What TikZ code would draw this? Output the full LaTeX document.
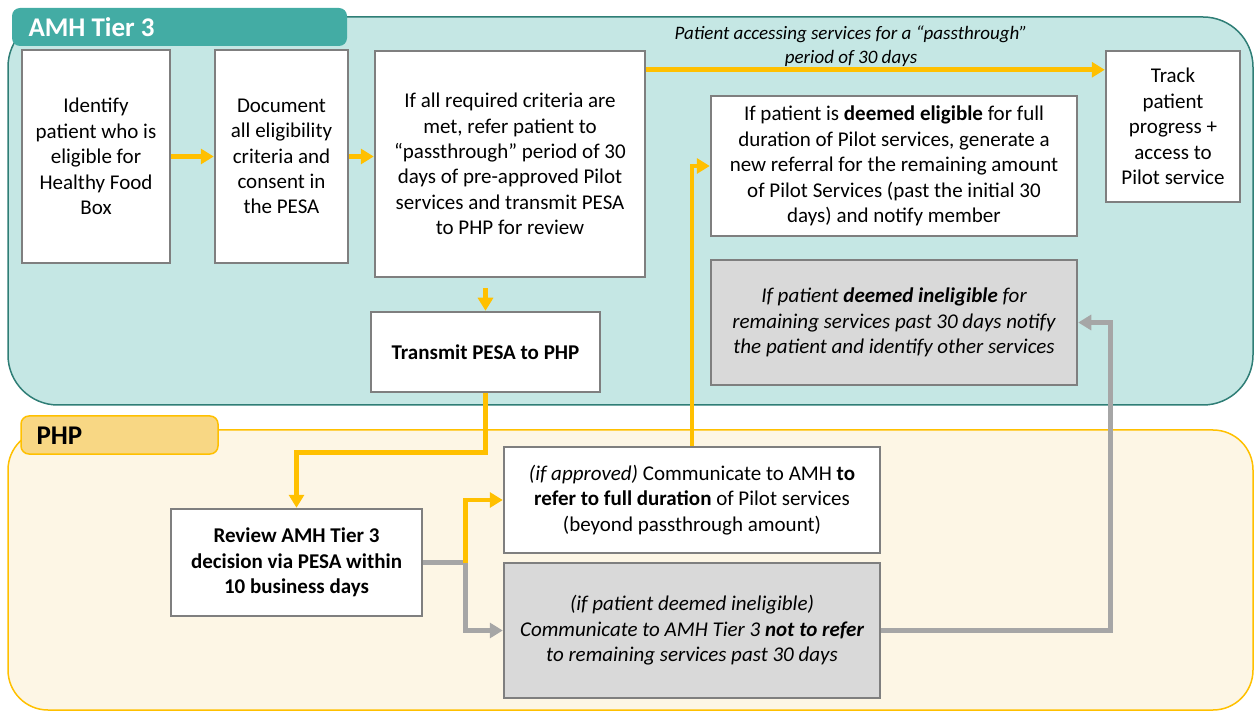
\documentclass[tikz,border=0pt]{standalone}
\usepackage{fontspec}
\setmainfont{Carlito}
\usetikzlibrary{arrows.meta,calc}
\definecolor{tealbg}{HTML}{C5E7E4}
\definecolor{tealdark}{HTML}{2F7E76}
\definecolor{tealtab}{HTML}{43ACA4}
\definecolor{phpbg}{HTML}{FDF6E5}
\definecolor{amber}{HTML}{FFC000}
\definecolor{phptab}{HTML}{F8D784}
\definecolor{boxgray}{HTML}{7F7F7F}
\definecolor{fillgray}{HTML}{D9D9D9}
\definecolor{arrgray}{HTML}{A6A6A6}
\tikzset{
  stepbox/.style={draw=boxgray, line width=2.5pt, fill=white, align=center, inner sep=0pt,
    font=\fontsize{21}{25.4}\selectfont},
  graybox/.style={stepbox, fill=fillgray},
  yarrow/.style={draw=amber, line width=4.5pt, -{Triangle[length=13pt,width=15pt]}},
  garrow/.style={draw=arrgray, line width=4.5pt, -{Triangle[length=13pt,width=15pt]}},
}
\begin{document}
\begin{tikzpicture}[x=1pt,y=-1pt]
\useasboundingbox (0,0) rectangle (1254,711);
% panels
\draw[fill=tealbg, draw=tealdark, line width=1.5pt, rounded corners=50pt] (8,17) rectangle (1253,405);
\draw[fill=phpbg, draw=amber, line width=1.5pt, rounded corners=40pt] (8,430) rectangle (1253,710);
\path[fill=tealtab, rounded corners=8pt] (12,8) rectangle (347,46);
\node[text=white, font=\fontsize{27}{30}\selectfont\bfseries, anchor=west] (amhtab) at (25,27) {AMH Tier 3};
\path[fill=phptab, draw=amber, line width=1.5pt, rounded corners=8pt] (21,416) rectangle (218,454);
\node[text=black, font=\fontsize{27}{30}\selectfont\bfseries, anchor=west] (phptablbl) at (33,436) {PHP};
% nodes
\node[stepbox, minimum width=148pt, minimum height=213pt] (id) at (96,156.5)
  {Identify\\patient who is\\eligible for\\Healthy Food\\Box};
\node[stepbox, minimum width=133pt, minimum height=213pt] (doc) at (281.5,156.5)
  {Document\\all eligibility\\criteria and\\consent in\\the PESA};
\node[stepbox, minimum width=270pt, minimum height=226pt] (ifall) at (510,164)
  {If all required criteria are\\met, refer patient to\\“passthrough” period of 30\\days of pre-approved Pilot\\services and transmit PESA\\to PHP for review};
\node[stepbox, minimum width=229pt, minimum height=80pt, font=\fontsize{21}{25.4}\selectfont\bfseries] (tx) at (485.5,352)
  {Transmit PESA to PHP};
\node[stepbox, minimum width=134pt, minimum height=151pt] (track) at (1173,126.5)
  {Track\\patient\\progress +\\access to\\Pilot service};
\node[stepbox, minimum width=366pt, minimum height=140pt] (el) at (894,166)
  {If patient is \textbf{deemed eligible} for full\\duration of Pilot services, generate a\\new referral for the remaining amount\\of Pilot Services (past the initial 30\\days) and notify member};
\node[graybox, minimum width=366pt, minimum height=125pt, font=\fontsize{21}{25.4}\selectfont\itshape] (g1) at (894,322.5)
  {If patient \textbf{deemed ineligible} for\\remaining services past 30 days notify\\the patient and identify other services};
\node[stepbox, minimum width=251pt, minimum height=107pt, font=\fontsize{21}{25.4}\selectfont\bfseries] (rv) at (296.5,562.5)
  {Review AMH Tier 3\\decision via PESA within\\10 business days};
\node[stepbox, minimum width=376pt, minimum height=106pt] (ap) at (692,500)
  {\textit{(if approved)} Communicate to AMH \textbf{to}\\\textbf{refer to full duration} of Pilot services\\(beyond passthrough amount)};
\node[graybox, minimum width=376pt, minimum height=135pt, font=\fontsize{21}{25.4}\selectfont\itshape] (g2) at (692,630.5)
  {(if patient deemed ineligible)\\Communicate to AMH Tier 3 \textbf{not to refer}\\to remaining services past 30 days};
\node[align=center, inner sep=0pt, font=\fontsize{19}{24}\selectfont\itshape] (lab) at (851,46)
  {Patient accessing services for a “passthrough”\\period of 30 days};
% connectors
\draw[yarrow] (id.east) -- (doc.west);
\draw[yarrow] (doc.east) -- (doc.east -| ifall.west);
\draw[yarrow] ([yshift=-20pt]ifall.north east) -- ([yshift=-20pt]ifall.north east -| track.west);
\coordinate (a1) at ([yshift=-10pt]ifall.south);
\draw[yarrow] (a1 -| tx.north) -- (tx.north);
\draw[yarrow] (tx.south) -- ++(0,59) -| (rv.north);
\coordinate (j) at ([xshift=42pt]rv.east);
\draw[garrow] (rv.east) -- (j) |- (g2.west);
\draw[yarrow] (j) |- (ap.west);
\draw[yarrow] (ap.north) |- (el.west);
\draw[garrow] (g2.east) -- ++(229,0) |- (g1.east);
\end{tikzpicture}
\end{document}
